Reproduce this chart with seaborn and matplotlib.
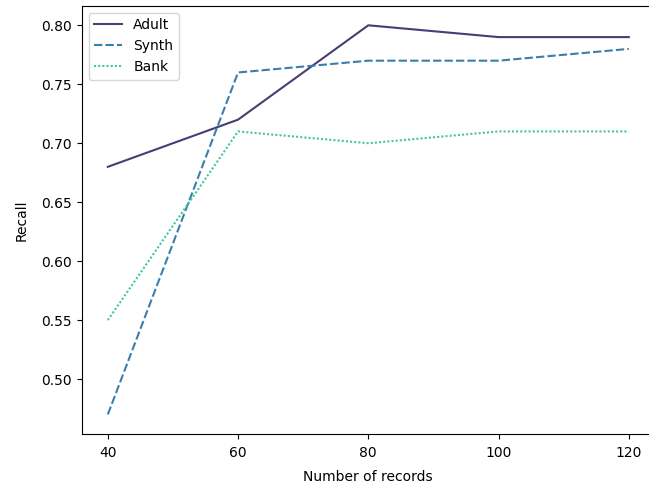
import pandas as pd
import matplotlib
matplotlib.use("Agg")
import matplotlib.pyplot as plt
import seaborn as sns

records = [40, 60, 80, 100, 120]
adult = [0.68, 0.72, 0.80, 0.79, 0.79]
synth = [0.47, 0.76, 0.77, 0.77, 0.78]
bank = [0.55, 0.71, 0.70, 0.71, 0.71]

df = pd.DataFrame({"Adult": adult, "Synth": synth, "Bank": bank}, index=records)

colors = ["#463e75", "#3a7fab", "#45c4aa"]

fig, ax = plt.subplots(figsize=(6.49, 4.87), dpi=100)
sns.lineplot(data=df, palette=colors, ax=ax)

ax.set_xlabel("Number of records", labelpad=7)
ax.set_ylabel("Recall", labelpad=9)
ax.set_xticks(records)
ax.tick_params(axis="x", pad=5.5)
ax.legend(loc="upper left")

# right spine sits just outside the picture, like the cropped original
plt.subplots_adjust(left=0.126, right=1.009, top=0.988, bottom=0.109)
plt.savefig("out.png", dpi=100)
